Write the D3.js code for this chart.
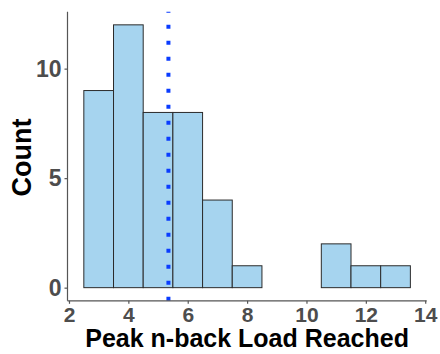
<!DOCTYPE html>
<html><head><meta charset="utf-8">
<script src="https://cdn.jsdelivr.net/npm/d3@7"></script>
<style>body{margin:0;background:#fff}</style>
</head><body>
<svg id="c" width="440" height="354"></svg>
<script>
const binStarts = [2.5,3.5,4.5,5.5,6.5,7.5,8.5,9.5,10.5,11.5,12.5];
const counts = [9,12,8,8,4,1,0,0,2,1,1];
const binWidth = 1;
const meanValue = 5.35;
const xTicks = [2,4,6,8,10,12,14];
const yTicks = [0,5,10];

(function(){
const svg = d3.select("#c");
const pL = 67.5, pR = 426.7, pT = 11.7, pB = 300.8;
const x = d3.scaleLinear().domain([1.95,14.05]).range([pL,pR]);
const y = d3.scaleLinear().domain([-0.6,12.6]).range([pB,pT]);

const bins = binStarts.map((s,i)=>({x0:s,x1:s+binWidth,n:counts[i]}));
svg.append("g").selectAll("rect").data(bins).join("rect")
  .attr("x",d=>x(d.x0)).attr("width",d=>x(d.x1)-x(d.x0))
  .attr("y",d=>y(d.n)).attr("height",d=>y(0)-y(d.n))
  .attr("fill","#a6d4ef").attr("stroke","#2b2b2b").attr("stroke-width",1);

svg.append("line").attr("x1",x(meanValue)).attr("x2",x(meanValue))
  .attr("y1",pB).attr("y2",pT)
  .attr("stroke","#0a3cff").attr("stroke-width",4).attr("stroke-dasharray","4,12");

const xa = svg.append("g").attr("transform",`translate(0,${pB})`)
  .call(d3.axisBottom(x).tickValues(xTicks).tickSize(3).tickPadding(3).tickSizeOuter(0));
const ya = svg.append("g").attr("transform",`translate(${pL},0)`)
  .call(d3.axisLeft(y).tickValues(yTicks).tickSize(3).tickPadding(3).tickSizeOuter(0));
[xa,ya].forEach(a=>{
  a.select(".domain").attr("stroke","#555").attr("stroke-width",1.2);
  a.selectAll(".tick line").attr("stroke","#555").attr("stroke-width",1.2);
  a.selectAll(".tick text").attr("fill","#4d4d4d")
   .style("font-family","Liberation Sans, Arial, sans-serif")
   .style("font-weight","bold");
});
xa.selectAll(".tick text").style("font-size","21px");
ya.selectAll(".tick text").style("font-size","23px");
xa.select(".domain").attr("d",`M${pL},0H${pR}`);
ya.select(".domain").attr("d",`M0,${pB}V${pT}`);

svg.append("text").attr("x",(pL+pR)/2).attr("y",347)
  .attr("text-anchor","middle").attr("fill","#000")
  .style("font-family","Liberation Sans, Arial, sans-serif")
  .style("font-size","25px").style("font-weight","bold")
  .text("Peak n-back Load Reached");
svg.append("text").attr("transform",`translate(31,157.5) rotate(-90)`)
  .attr("text-anchor","middle").attr("fill","#000")
  .style("font-family","Liberation Sans, Arial, sans-serif")
  .style("font-size","27px").style("font-weight","bold")
  .text("Count");
})();
</script>
</body></html>
